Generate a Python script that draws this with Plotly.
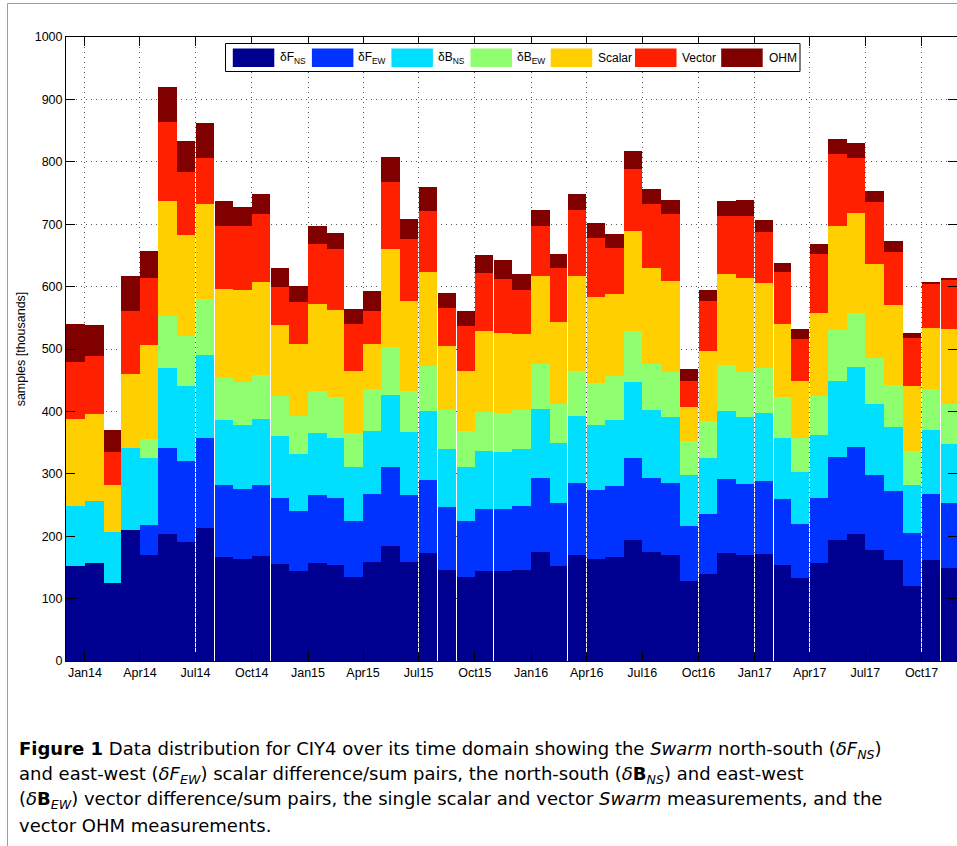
import pandas as pd
import plotly.graph_objects as go

# ---- data (thousands of samples per month) ----
months = pd.date_range("2013-12-01", periods=48, freq="MS")
days_in_month = list(months.days_in_month)

series_names = ["δF<sub>NS</sub>", "δF<sub>EW</sub>", "δB<sub>NS</sub>", "δB<sub>EW</sub>",
                "Scalar", "Vector", "OHM"]
series_colors = ["#000090", "#0033FF", "#00DFFF", "#8FFF70", "#FFCF00", "#FF2000", "#800000"]

dF_NS = [151.5, 157.5, 125.7, 209.6, 169.5, 203.0, 191.0, 213.2, 165.9, 162.9,
         167.7, 155.7, 143.7, 156.9, 154.5, 135.3, 159.3, 185.0, 158.1, 172.5,
         145.5, 134.1, 144.9, 143.7, 145.5, 174.9, 151.5, 169.5, 162.9, 167.1,
         193.4, 174.3, 169.5, 128.7, 139.5, 173.7, 169.5, 171.3, 154.5, 132.3,
         157.5, 194.6, 204.2, 177.2, 161.7, 120.4, 161.1, 149.7]
dF_EW = [0, 0, 0, 0, 49.1, 137.7, 130.0, 144.9, 115.5, 112.0,
         113.7, 106.0, 96.4, 109.6, 106.0, 89.3, 109.0, 125.2, 107.8, 117.9,
         100.6, 91.0, 99.4, 99.4, 102.4, 119.1, 101.8, 115.5, 111.4, 113.1,
         131.2, 119.1, 115.5, 88.1, 95.8, 117.3, 114.9, 117.3, 105.4, 86.9,
         103.3, 131.7, 138.3, 121.0, 110.2, 85.0, 106.0, 103.0]
dB_NS = [97.0, 99.4, 80.9, 131.7, 106.5, 128.2, 120.3, 132.9, 105.4, 103.5,
         106.6, 98.8, 91.6, 99.4, 97.6, 85.6, 100.0, 115.5, 100.6, 109.6,
         93.4, 86.3, 92.8, 92.2, 92.5, 109.6, 96.4, 107.8, 103.5, 106.0,
         122.1, 109.6, 106.6, 81.4, 89.8, 109.6, 107.2, 108.4, 97.6, 83.8,
         100.6, 122.2, 128.2, 113.2, 103.0, 77.2, 102.4, 95.2]
dB_EW = [0, 0, 0, 0, 30.6, 84.4, 80.3, 89.2, 67.1, 68.3,
         70.1, 64.6, 60.5, 67.0, 64.7, 55.7, 67.0, 77.9, 67.0, 72.5,
         62.3, 57.5, 61.7, 61.7, 62.6, 73.0, 62.9, 71.9, 68.3, 70.1,
         81.4, 73.0, 71.6, 53.9, 59.3, 73.7, 71.3, 71.9, 65.3, 53.9,
         63.7, 82.0, 86.8, 74.8, 68.2, 53.3, 65.8, 63.5]
scalar = [138.9, 138.3, 76.0, 118.6, 151.5, 183.2, 161.0, 152.1, 141.9, 147.9,
          149.7, 112.6, 115.6, 139.6, 139.5, 98.8, 73.1, 156.9, 143.7, 150.3,
          103.6, 95.2, 129.9, 128.7, 121.6, 140.2, 129.9, 152.1, 136.5, 131.1,
          161.1, 154.5, 146.1, 54.5, 112.0, 146.1, 150.3, 136.5, 117.9, 91.6,
          131.8, 167.1, 159.9, 149.7, 127.6, 104.8, 98.2, 120.3]
vector = [92.2, 93.4, 52.1, 100.6, 106.6, 127.6, 101.8, 74.3, 101.2, 102.4,
          107.8, 62.3, 68.2, 96.4, 98.2, 76.0, 52.7, 107.2, 99.4, 98.8,
          60.5, 72.4, 92.9, 86.9, 70.0, 79.6, 87.4, 106.6, 95.2, 74.3,
          98.8, 102.5, 106.9, 41.9, 80.8, 92.2, 100.0, 82.0, 82.1, 67.1,
          94.6, 115.0, 89.2, 99.4, 85.0, 77.3, 71.3, 79.7]
ohm = [59.9, 50.3, 35.3, 55.7, 43.1, 55.1, 49.7, 55.7, 40.7, 31.1,
       32.3, 29.3, 25.2, 28.7, 25.7, 24.0, 31.7, 39.5, 32.4, 38.3,
       23.9, 24.6, 28.7, 29.9, 24.9, 26.4, 22.2, 24.5, 24.0, 22.7,
       29.4, 23.3, 22.8, 19.2, 16.8, 25.1, 25.1, 18.6, 15.5, 16.1,
       17.1, 23.3, 23.9, 18.6, 16.8, 8.3, 2.4, 2.4]

all_series = [dF_NS, dF_EW, dB_NS, dB_EW, scalar, vector, ohm]

caption_lines = [
    "<b>Figure 1</b> Data distribution for CIY4 over its time domain showing the <i>Swarm</i> north-south (<i>δF<sub>NS</sub></i>)",
    "and east-west (<i>δF<sub>EW</sub></i>) scalar difference/sum pairs, the north-south (<i>δ</i><b>B</b><sub><i>NS</i></sub>) and east-west",
    "(<i>δ</i><b>B</b><sub><i>EW</i></sub>) vector difference/sum pairs, the single scalar and vector <i>Swarm</i> measurements, and the",
    "vector OHM measurements.",
]

# ---- geometry helpers ----
W, H = 957, 846
L, R, T, B = 66, 0, 37, 185
PW, PH = W - L - R, H - T - B


def px(x):
    return (x - L) / PW


def py(y):
    return (H - B - y) / PH


FONT = "Liberation Sans, Arial, Helvetica, sans-serif"
CAP_FONT = "DejaVu Sans, Verdana, sans-serif"
DAY_MS = 86400000

fig = go.Figure()
for name, col, vals in zip(series_names, series_colors, all_series):
    fig.add_trace(go.Bar(
        x=months, y=vals, name=name,
        width=[d * DAY_MS * 0.985 for d in days_in_month], offset=0,
        marker=dict(color=col, line=dict(width=0)),
        showlegend=False,
    ))

shapes = []
annotations = []

# custom MATLAB-style legend
lg_x0, lg_x1, lg_y0, lg_y1 = 225.5, 800, 43.5, 71.5
shapes.append(dict(type="rect", xref="paper", yref="paper",
                   x0=px(lg_x0), x1=px(lg_x1), y0=py(lg_y0), y1=py(lg_y1),
                   line=dict(color="black", width=1), fillcolor="white", layer="above"))
sw_left = [232.8, 311.9, 391.4, 470.5, 550.7, 635.0, 721.2]
label_left = [277.9, 356.2, 436.0, 515.2, 595.8, 679.6, 766.6]
for i, (name, col) in enumerate(zip(series_names, series_colors)):
    shapes.append(dict(type="rect", xref="paper", yref="paper",
                       x0=px(sw_left[i]), x1=px(sw_left[i] + 41.5),
                       y0=py(48.5), y1=py(67), line=dict(width=0),
                       fillcolor=col, layer="above"))
    annotations.append(dict(xref="paper", yref="paper", x=px(label_left[i]),
                            y=py(58), xanchor="left", yanchor="middle",
                            text=name, showarrow=False,
                            font=dict(family=FONT, size=12, color="black")))

# outer figure frame
shapes.append(dict(type="rect", xref="paper", yref="paper",
                   x0=px(7.5), x1=px(1200), y0=py(3.5), y1=py(1200),
                   line=dict(color="#8aa0bd", width=1), layer="above"))

# caption
for i, line in enumerate(caption_lines):
    annotations.append(dict(xref="paper", yref="paper", x=px(17), y=py(750 + 25 * i),
                            xanchor="left", yanchor="middle", text=line,
                            showarrow=False,
                            font=dict(family=CAP_FONT, size=18, color="black")))

fig.update_layout(
    width=W, height=H,
    margin=dict(l=L, r=R, t=T, b=B),
    paper_bgcolor="white", plot_bgcolor="white",
    barmode="stack", bargap=0,
    font=dict(family=FONT, size=12, color="black"),
    shapes=shapes, annotations=annotations,
    xaxis=dict(
        type="date", range=["2013-12-01", "2017-11-28"],
        tick0="2014-01-01", dtick="M3", tickformat="%b%y",
        ticks="inside", ticklen=9, tickcolor="black",
        showline=True, linecolor="black", linewidth=1, mirror="ticks",
        showgrid=True, gridcolor="#555555", griddash="1px,4px", gridwidth=1,
        tickfont=dict(size=12.5), zeroline=False,
    ),
    yaxis=dict(
        range=[0, 1000], dtick=100, tick0=0,
        ticks="inside", ticklen=9, tickcolor="black",
        showline=True, linecolor="black", linewidth=1, mirror="ticks",
        showgrid=True, gridcolor="#555555", griddash="1px,4px", gridwidth=1,
        tickfont=dict(size=12.5), zeroline=False,
        title=dict(text="samples [thousands]", font=dict(size=12.5), standoff=6),
    ),
)

fig.write_html(
    "out.html",
    config={"displayModeBar": False},
    post_script="document.body.style.margin='0';document.body.style.overflow='hidden';",
)
